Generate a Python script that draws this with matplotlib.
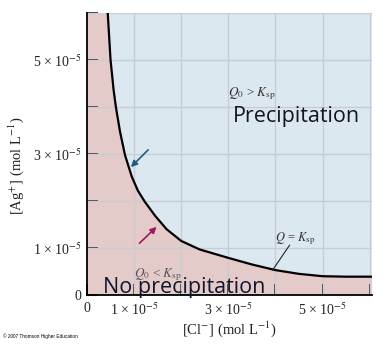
import matplotlib
matplotlib.use("Agg")
import matplotlib.pyplot as plt

# curve Q = Ksp, units of 1e-5 mol/L
cl = [0.44, 0.50, 0.565, 0.615, 0.70, 0.806, 0.95, 1.08, 1.23, 1.45, 1.69, 2.00, 2.39, 3.00, 3.50, 4.00, 4.50, 5.00, 5.50, 6.05]
ag = [6.00, 5.00, 4.36, 3.99, 3.48, 2.98, 2.52, 2.22, 1.98, 1.68, 1.40, 1.15, 0.97, 0.79, 0.65, 0.53, 0.45, 0.40, 0.39, 0.39]

xticks = [0, 1, 2, 3, 4, 5, 6]
yticks = [0, 1, 2, 3, 4, 5, 6]
xlabels = ["0", "1 \u00d7 10$^{-5}$", "", "3 \u00d7 10$^{-5}$", "", "5 \u00d7 10$^{-5}$", ""]
ylabels = ["0", "1 \u00d7 10$^{-5}$", "", "3 \u00d7 10$^{-5}$", "", "5 \u00d7 10$^{-5}$", ""]

plt.rcParams['font.family'] = 'Liberation Serif'
plt.rcParams['mathtext.fontset'] = 'stix'

fig = plt.figure(figsize=(3.86, 3.52), dpi=100)
ax = fig.add_axes([0.2254, 0.1619, 0.7383, 0.8011])
ax.set_xlim(0, 6.05)
ax.set_ylim(0, 6)
ax.set_facecolor('#dce8f0')

ax.fill([0] + cl + [6.05, 0], [6] + ag + [0, 0], color='#e5caca', lw=0, zorder=1)
for t in xticks[1:]:
    ax.axvline(t, color='#c8cdd2', lw=1, zorder=2)
for t in yticks[1:]:
    ax.axhline(t, color='#c8cdd2', lw=1, zorder=2)
ax.plot(cl, ag, color='black', lw=1.6, zorder=4)

ax.set_xticks(xticks)
ax.set_xticklabels(xlabels)
ax.set_yticks(yticks)
ax.set_yticklabels(ylabels)
ax.tick_params(direction='in', length=8, width=1.2, labelsize=10, color='#222222', labelcolor='#222222')
ax.tick_params(axis='x', pad=5)
ax.tick_params(axis='y', pad=4)
for s in ['top', 'right']:
    ax.spines[s].set_visible(False)
for s in ['left', 'bottom']:
    ax.spines[s].set_linewidth(1.3)

ax.set_xlabel("[Cl$^{-}$] (mol L$^{-1}$)", fontsize=10.5, labelpad=1, color='#222222')
ax.set_ylabel("[Ag$^{+}$] (mol L$^{-1}$)", fontsize=10.5, color='#222222')
ax.yaxis.set_label_coords(-0.215, 0.46)

ax.text(3.0, 4.24, r"$Q_0$ > $K_{\rm sp}$", fontsize=9.5, color='#333333', zorder=5)
ax.text(3.09, 3.68, "Precipitation", fontsize=15.5, family='Open Sans', color='#15151f', zorder=5)
ax.text(1.0, 0.37, r"$Q_0$ < $K_{\rm sp}$", fontsize=9.5, color='#555555', zorder=5)
ax.text(0.35, 0.05, "No precipitation", fontsize=15.5, family='Open Sans', color='#101830', zorder=5)
ax.text(4.0, 1.15, r"$Q$ = $K_{\rm sp}$", fontsize=9, color='#333333', zorder=5)
ax.plot([4.3, 3.94], [1.06, 0.53], color='#222222', lw=0.8, zorder=5)

ax.annotate("", xy=(0.89, 2.68), xytext=(1.34, 3.13),
            arrowprops=dict(arrowstyle='-|>', color='#1f5a86', lw=1.2, mutation_scale=9), zorder=6)
ax.annotate("", xy=(1.52, 1.49), xytext=(1.07, 1.06),
            arrowprops=dict(arrowstyle='-|>', color='#9a1a5c', lw=1.2, mutation_scale=9), zorder=6)

fig.text(0.008, 0.04, "\u00a9 2007 Thomson Higher Education", fontsize=3.4, family='Liberation Sans')

fig.savefig("out.png", dpi=100)
